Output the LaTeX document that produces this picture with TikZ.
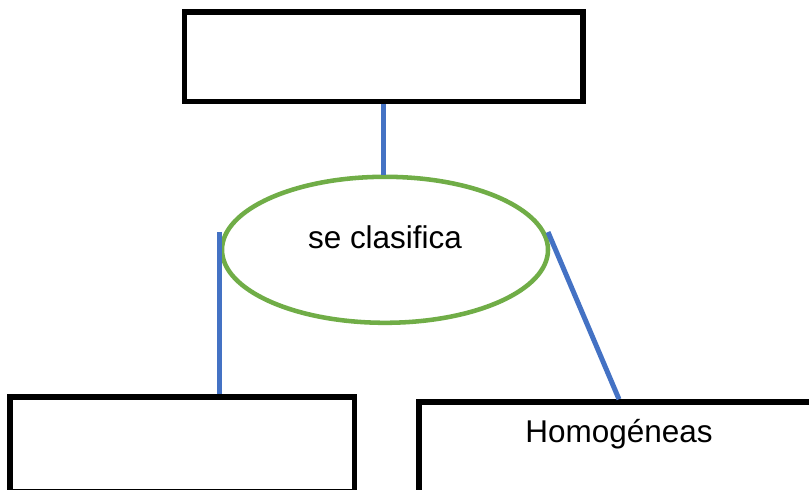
\documentclass[tikz,border=0pt]{standalone}
\usepackage{fontspec}
\setmainfont{Liberation Sans}
\usetikzlibrary{shapes.geometric, positioning, calc}
\definecolor{myblue}{RGB}{68,114,196}
\definecolor{mygreen}{RGB}{112,173,71}
\tikzset{
  blackbox/.style={rectangle, draw=black, fill=white, line width=4.1pt,
    inner sep=0pt, font=\fontsize{23.6}{28}\selectfont},
  greenoval/.style={ellipse, draw=mygreen, fill=white, line width=3.4pt,
    inner sep=0pt, minimum width=244.5pt, minimum height=109.5pt,
    text height=16pt, text depth=18.5pt, font=\fontsize{23.6}{28}\selectfont},
  bluelink/.style={line width=3.75pt, color=myblue}
}
\begin{document}
\begin{tikzpicture}[x=0.75pt, y=-0.75pt]
  \useasboundingbox (0,0) rectangle (809,489);

  % Top box and classifier
  \node[blackbox, minimum width=299pt, minimum height=67pt] (main) at (383.8,56.7) {};
  \node[greenoval] (clasifica) at (385,249.8) {se clasifica};

  % Bottom boxes
  \node[blackbox, minimum width=258.5pt, minimum height=71.25pt] (leftbox) at (182.3,444.5) {};
  \node[blackbox, minimum width=300pt, minimum height=70.5pt,
    text height=16pt, text depth=25.5pt] (homog) at (619,449) {Homogéneas};

  % Links
  \coordinate (lft) at (219,232);
  \coordinate (rgt) at (548,232);
  \draw[bluelink] (main.south) -- (main.south |- clasifica.north);
  \draw[bluelink] (lft) -- (lft |- leftbox.north);
  \draw[bluelink] (rgt) -- (homog.north);
\end{tikzpicture}
\end{document}
